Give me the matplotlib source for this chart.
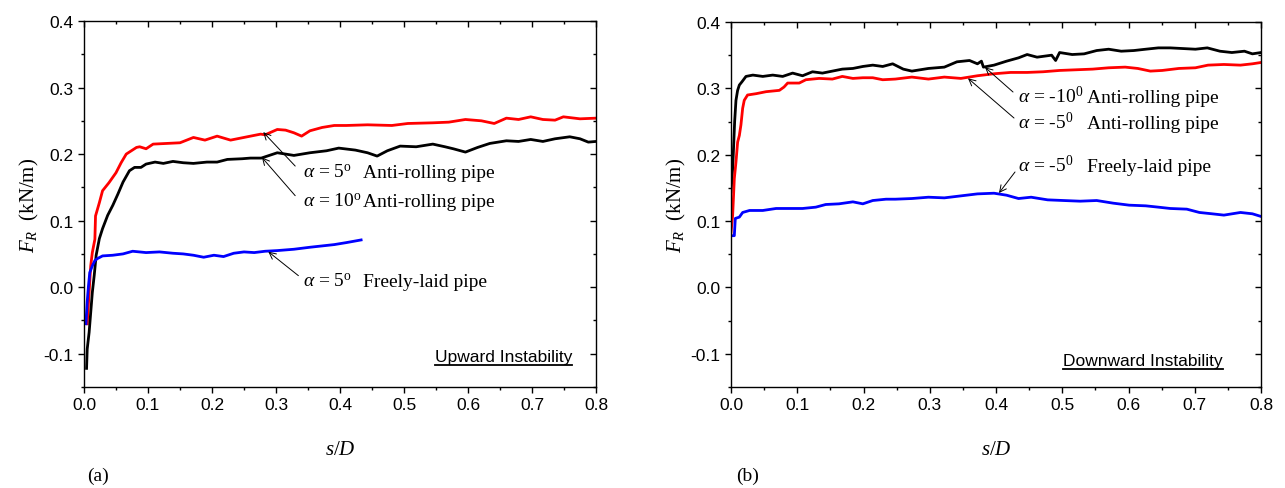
import matplotlib
matplotlib.use("Agg")
import matplotlib.pyplot as plt
from matplotlib.ticker import MultipleLocator, FormatStrFormatter
from matplotlib.lines import Line2D
import matplotlib.markers as mmarkers

plt.rcParams["font.family"] = ["Liberation Sans", "DejaVu Sans"]
plt.rcParams["axes.unicode_minus"] = False
plt.rcParams["mathtext.fontset"] = "custom"
plt.rcParams["mathtext.rm"] = "Liberation Serif"
plt.rcParams["mathtext.it"] = "Liberation Serif:italic"
plt.rcParams["mathtext.bf"] = "Liberation Serif:bold"

# ---------------- (a) upward instability ----------------
a_red_x = [0.005, 0.0105, 0.013, 0.017, 0.018, 0.024, 0.029, 0.039, 0.050, 0.058,
           0.066, 0.082, 0.087, 0.097, 0.108, 0.129, 0.150, 0.171, 0.189, 0.208,
           0.229, 0.255, 0.276, 0.283, 0.302, 0.315, 0.328, 0.340, 0.353, 0.372,
           0.391, 0.410, 0.443, 0.481, 0.506, 0.545, 0.570, 0.596, 0.621, 0.641,
           0.660, 0.679, 0.698, 0.717, 0.736, 0.749, 0.775, 0.800]
a_red_y = [-0.055, 0.032, 0.052, 0.072, 0.107, 0.127, 0.145, 0.157, 0.172, 0.187,
           0.200, 0.210, 0.211, 0.208, 0.215, 0.216, 0.217, 0.225, 0.221, 0.227,
           0.221, 0.226, 0.230, 0.229, 0.237, 0.236, 0.232, 0.227, 0.235, 0.240,
           0.243, 0.243, 0.244, 0.243, 0.246, 0.247, 0.248, 0.252, 0.250, 0.246,
           0.254, 0.252, 0.256, 0.252, 0.251, 0.256, 0.253, 0.254]

a_black_x = [0.004, 0.005, 0.008, 0.0105, 0.013, 0.016, 0.019, 0.024, 0.029, 0.037,
             0.045, 0.053, 0.061, 0.071, 0.079, 0.089, 0.097, 0.111, 0.124, 0.139,
             0.155, 0.171, 0.192, 0.208, 0.224, 0.247, 0.260, 0.277, 0.302, 0.328,
             0.353, 0.379, 0.398, 0.424, 0.443, 0.458, 0.474, 0.494, 0.519, 0.545,
             0.564, 0.577, 0.596, 0.615, 0.634, 0.660, 0.679, 0.698, 0.717, 0.736,
             0.759, 0.775, 0.788, 0.800]
a_black_y = [-0.122, -0.093, -0.068, -0.038, -0.008, 0.018, 0.048, 0.073, 0.088, 0.108,
             0.123, 0.140, 0.158, 0.175, 0.180, 0.180, 0.185, 0.188, 0.186, 0.189,
             0.187, 0.186, 0.188, 0.188, 0.192, 0.193, 0.194, 0.194, 0.202, 0.198,
             0.202, 0.205, 0.209, 0.206, 0.202, 0.197, 0.205, 0.212, 0.211, 0.215,
             0.211, 0.208, 0.203, 0.210, 0.216, 0.220, 0.219, 0.222, 0.219, 0.223,
             0.226, 0.223, 0.218, 0.219]

a_blue_x = [0.003, 0.005, 0.007, 0.009, 0.013, 0.017, 0.021, 0.029, 0.045, 0.061,
            0.076, 0.097, 0.118, 0.139, 0.155, 0.171, 0.187, 0.203, 0.218, 0.234,
            0.250, 0.266, 0.283, 0.302, 0.328, 0.353, 0.372, 0.391, 0.410, 0.433]
a_blue_y = [-0.055, -0.022, 0.002, 0.022, 0.032, 0.040, 0.043, 0.047, 0.048, 0.050,
            0.054, 0.052, 0.053, 0.051, 0.050, 0.048, 0.045, 0.048, 0.046, 0.051,
            0.053, 0.052, 0.054, 0.055, 0.057, 0.060, 0.062, 0.064, 0.067, 0.071]

# ---------------- (b) downward instability ----------------
b_black_x = [0.000, 0.0025, 0.004, 0.0055, 0.0075, 0.010, 0.0126, 0.0166, 0.0226, 0.033,
             0.048, 0.063, 0.078, 0.093, 0.108, 0.123, 0.138, 0.153, 0.168, 0.184,
             0.199, 0.214, 0.229, 0.244, 0.260, 0.273, 0.298, 0.322, 0.341, 0.360,
             0.372, 0.378, 0.381, 0.397, 0.416, 0.434, 0.447, 0.462, 0.484, 0.490,
             0.496, 0.515, 0.533, 0.552, 0.570, 0.589, 0.608, 0.626, 0.645, 0.663,
             0.682, 0.701, 0.719, 0.738, 0.756, 0.775, 0.787, 0.800]
b_black_y = [0.144, 0.179, 0.214, 0.250, 0.282, 0.297, 0.305, 0.310, 0.318, 0.320,
             0.318, 0.320, 0.318, 0.323, 0.319, 0.325, 0.323, 0.326, 0.329, 0.330,
             0.333, 0.335, 0.333, 0.337, 0.329, 0.326, 0.330, 0.332, 0.340, 0.342,
             0.337, 0.341, 0.332, 0.335, 0.341, 0.346, 0.351, 0.347, 0.350, 0.342,
             0.354, 0.351, 0.352, 0.357, 0.359, 0.356, 0.357, 0.359, 0.361, 0.361,
             0.360, 0.359, 0.361, 0.356, 0.354, 0.356, 0.352, 0.354]

b_red_x = [0.000, 0.0025, 0.005, 0.0075, 0.010, 0.0126, 0.015, 0.0176, 0.020, 0.025,
           0.038, 0.053, 0.073, 0.080, 0.0855, 0.103, 0.113, 0.133, 0.153, 0.168,
           0.184, 0.199, 0.214, 0.229, 0.248, 0.273, 0.298, 0.322, 0.347, 0.372,
           0.397, 0.422, 0.447, 0.471, 0.496, 0.521, 0.546, 0.570, 0.595, 0.614,
           0.633, 0.651, 0.676, 0.701, 0.720, 0.744, 0.769, 0.787, 0.800]
b_red_y = [0.083, 0.109, 0.164, 0.189, 0.219, 0.229, 0.245, 0.270, 0.282, 0.290,
           0.292, 0.295, 0.297, 0.302, 0.308, 0.308, 0.313, 0.315, 0.314, 0.318,
           0.315, 0.316, 0.316, 0.313, 0.314, 0.317, 0.314, 0.317, 0.315, 0.319,
           0.322, 0.324, 0.324, 0.325, 0.327, 0.328, 0.329, 0.331, 0.332, 0.330,
           0.326, 0.327, 0.330, 0.331, 0.335, 0.336, 0.335, 0.337, 0.339]

b_blue_x = [0.000, 0.005, 0.0065, 0.0126, 0.0176, 0.028, 0.048, 0.068, 0.088, 0.108,
            0.128, 0.143, 0.163, 0.184, 0.199, 0.214, 0.234, 0.248, 0.273, 0.298,
            0.322, 0.347, 0.372, 0.397, 0.416, 0.434, 0.453, 0.478, 0.502, 0.527,
            0.552, 0.577, 0.601, 0.626, 0.645, 0.663, 0.688, 0.707, 0.726, 0.744,
            0.769, 0.787, 0.800]
b_blue_y = [0.078, 0.078, 0.104, 0.106, 0.113, 0.116, 0.116, 0.119, 0.119, 0.119,
            0.121, 0.125, 0.126, 0.129, 0.126, 0.131, 0.133, 0.133, 0.134, 0.136,
            0.135, 0.138, 0.141, 0.142, 0.139, 0.134, 0.136, 0.132, 0.131, 0.130,
            0.131, 0.127, 0.124, 0.123, 0.121, 0.119, 0.118, 0.113, 0.111, 0.109,
            0.113, 0.111, 0.107]

W, H = 1285, 489
fig = plt.figure(figsize=(W / 100, H / 100), dpi=100)
ax_a = fig.add_axes([84 / W, 1 - 388 / H, 512 / W, 366 / H])
ax_b = fig.add_axes([731 / W, 1 - 388 / H, 530 / W, 365 / H])

LW = 2.0
ax_a.plot(a_red_x, a_red_y, color="#ff0000", lw=LW)
ax_a.plot(a_black_x, a_black_y, color="black", lw=LW)
ax_a.plot(a_blue_x, a_blue_y, color="#0000ff", lw=LW)

ax_b.plot(b_black_x, b_black_y, color="black", lw=LW)
ax_b.plot(b_red_x, b_red_y, color="#ff0000", lw=LW)
ax_b.plot(b_blue_x, b_blue_y, color="#0000ff", lw=LW)

serif = ["Liberation Serif", "DejaVu Serif"]

for ax in (ax_a, ax_b):
    ax.set_xlim(0, 0.8)
    ax.set_ylim(-0.15, 0.4)
    ax.xaxis.set_major_locator(MultipleLocator(0.1))
    ax.xaxis.set_minor_locator(MultipleLocator(0.05))
    ax.yaxis.set_major_locator(MultipleLocator(0.1))
    ax.yaxis.set_minor_locator(MultipleLocator(0.05))
    ax.xaxis.set_major_formatter(FormatStrFormatter("%.1f"))
    ax.yaxis.set_major_formatter(FormatStrFormatter("%.1f"))
    ax.tick_params(which="both", direction="out", top=True, right=True,
                   labelsize=12.5, width=1.0)
    ax.tick_params(which="major", length=4.5, pad=3)
    ax.tick_params(which="minor", length=2.2)
    for spine in ax.spines.values():
        spine.set_linewidth(1.0)
    ax.set_xlabel(r"$s/D$", fontsize=15, labelpad=19)
    ax.set_ylabel(r"$F_R$  (kN/m)", fontsize=15, labelpad=2, family=serif)

# top/right ticks point inward, bottom/left outward
for ax in (ax_a, ax_b):
    for t in ax.xaxis.get_major_ticks() + ax.xaxis.get_minor_ticks():
        t.tick2line.set_marker(mmarkers.TICKDOWN)
    for t in ax.yaxis.get_major_ticks() + ax.yaxis.get_minor_ticks():
        t.tick2line.set_marker(mmarkers.TICKLEFT)

ann_fs = 14
arrow = dict(arrowstyle="->", color="black", lw=0.7, shrinkA=0, shrinkB=0,
             mutation_scale=12)

# annotations, panel (a)
ax_a.annotate("", xy=(0.280, 0.233), xytext=(0.330, 0.182), arrowprops=arrow)
ax_a.annotate("", xy=(0.278, 0.195), xytext=(0.330, 0.1375), arrowprops=arrow)
ax_a.annotate("", xy=(0.288, 0.0533), xytext=(0.335, 0.0173), arrowprops=arrow)
for y, lab, desc in [(0.1656, r"$\alpha$ = 5$^{\rm o}$", "Anti-rolling pipe"),
                     (0.122, r"$\alpha$ = 10$^{\rm o}$", "Anti-rolling pipe"),
                     (0.0018, r"$\alpha$ = 5$^{\rm o}$", "Freely-laid pipe")]:
    ax_a.text(0.342, y, lab, fontsize=ann_fs, va="baseline", ha="left",
              family=serif)
    ax_a.text(0.436, y, desc, fontsize=ann_fs, va="baseline", ha="left",
              family=serif)

# annotations, panel (b)
ax_b.annotate("", xy=(0.3834, 0.3317), xytext=(0.4257, 0.2945), arrowprops=arrow)
ax_b.annotate("", xy=(0.3577, 0.3152), xytext=(0.4272, 0.2553), arrowprops=arrow)
ax_b.annotate("", xy=(0.4045, 0.1423), xytext=(0.4287, 0.174), arrowprops=arrow)
for y, lab, desc in [(0.2795, r"$\alpha$ = -10$^{0}$", "Anti-rolling pipe"),
                     (0.240, r"$\alpha$ = -5$^{0}$", "Anti-rolling pipe"),
                     (0.1755, r"$\alpha$ = -5$^{0}$", "Freely-laid pipe")]:
    ax_b.text(0.4332, y, lab, fontsize=ann_fs, va="baseline", ha="left",
              family=serif)
    ax_b.text(0.5374, y, desc, fontsize=ann_fs, va="baseline", ha="left",
              family=serif)

# underlined panel captions
cap_a = ax_a.text(0.7625, -0.111, "Upward Instability", fontsize=12.5,
                  ha="right", va="baseline")
cap_b = ax_b.text(0.7426, -0.117, "Downward Instability", fontsize=12.5,
                  ha="right", va="baseline")

fig.text(87 / W, 1 - 476 / H, "(a)", fontsize=14, family=serif, va="center")
fig.text(736 / W, 1 - 476 / H, "(b)", fontsize=14, family=serif, va="center")

fig.canvas.draw()
renderer = fig.canvas.get_renderer()
for cap in (cap_a, cap_b):
    bb = cap.get_window_extent(renderer)
    y0 = bb.y0 - 1.0
    fig.add_artist(Line2D([bb.x0 / W, bb.x1 / W], [y0 / H, y0 / H],
                          color="black", lw=1.3, transform=fig.transFigure))

fig.savefig("out.png", dpi=100)
